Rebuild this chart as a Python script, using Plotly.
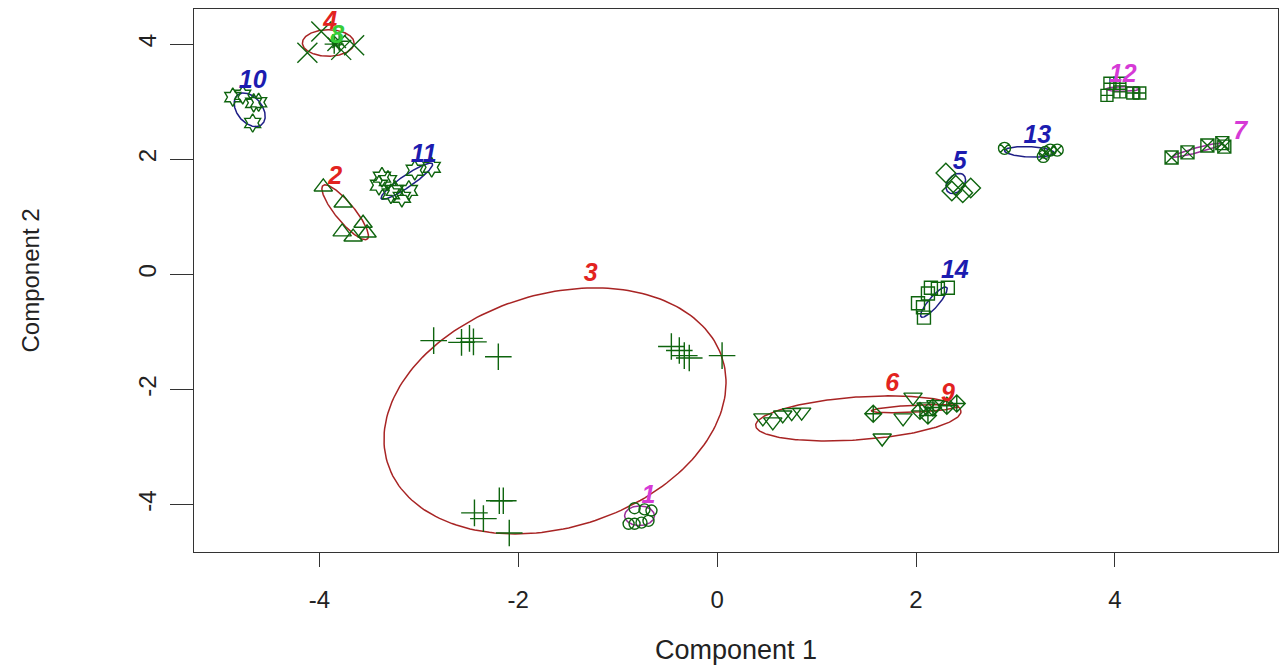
import numpy as np
import plotly.graph_objects as go

# ---------------- data ----------------
clusters = ["1", "2", "3", "4", "5", "6", "7", "8", "9", "10", "11", "12", "13", "14"]

c1_x = [-0.83, -0.73, -0.66, -0.89, -0.83, -0.76, -0.69]
c1_y = [-4.06, -4.08, -4.10, -4.33, -4.33, -4.31, -4.28]
c2_x = [-3.96, -3.76, -3.77, -3.56, -3.52, -3.66]
c2_y = [1.52, 1.24, 0.74, 0.89, 0.72, 0.65]
c3_x = [-2.85, -2.57, -2.49, -2.45, -2.20, -0.46, -0.38, -0.33, -0.28, 0.05,
        -2.44, -2.35, -2.19, -2.15, -2.09]
c3_y = [-1.15, -1.18, -1.11, -1.17, -1.43, -1.25, -1.32, -1.41, -1.45, -1.41,
        -4.14, -4.24, -3.93, -3.93, -4.49]
c4_x = [-4.12, -3.98, -3.65, -3.78]
c4_y = [3.85, 4.22, 3.98, 3.90]
c5_x = [2.30, 2.40, 2.36, 2.47, 2.55]
c5_y = [1.76, 1.55, 1.45, 1.42, 1.50]
c6_x = [0.46, 0.56, 0.66, 0.75, 0.85, 1.66, 1.97, 1.87, 2.10, 2.20]
c6_y = [-2.49, -2.56, -2.44, -2.40, -2.39, -2.84, -2.13, -2.49, -2.30, -2.26]
c7_x = [4.57, 4.73, 4.93, 5.08, 5.10]
c7_y = [2.03, 2.12, 2.24, 2.28, 2.22]
c8_x = [-3.85, -3.80]
c8_y = [4.00, 4.05]
c9_x = [1.57, 2.04, 2.17, 2.31, 2.41, 2.12]
c9_y = [-2.42, -2.37, -2.31, -2.28, -2.24, -2.45]
c10_x = [-4.87, -4.77, -4.66, -4.61, -4.67]
c10_y = [3.08, 3.12, 2.98, 2.99, 2.63]
c11_x = [-3.37, -3.40, -3.31, -3.24, -3.17, -3.10, -3.04, -2.87, -3.28]
c11_y = [1.69, 1.55, 1.63, 1.46, 1.34, 1.46, 1.81, 1.86, 1.40]
c12_x = [3.95, 4.05, 3.92, 4.05, 4.18, 4.25]
c12_y = [3.32, 3.32, 3.11, 3.17, 3.15, 3.15]
c13_x = [2.89, 3.28, 3.35, 3.42, 3.30]
c13_y = [2.19, 2.05, 2.16, 2.16, 2.12]
c14_x = [2.02, 2.08, 2.15, 2.32, 2.12, 2.07, 2.22]
c14_y = [-0.50, -0.75, -0.23, -0.23, -0.33, -0.57, -0.25]

points_x = [c1_x, c2_x, c3_x, c4_x, c5_x, c6_x, c7_x, c8_x, c9_x, c10_x, c11_x, c12_x, c13_x, c14_x]
points_y = [c1_y, c2_y, c3_y, c4_y, c5_y, c6_y, c7_y, c8_y, c9_y, c10_y, c11_y, c12_y, c13_y, c14_y]

# spanning ellipses: centre x, centre y, semi-axis a, semi-axis b, angle (deg)
ell_cx = [-0.78, -3.74, -1.63, -3.91, 2.40, 1.42, 4.83, -3.82, 1.99, -4.70, -3.12, 4.08, 3.14, 2.18]
ell_cy = [-4.19, 1.08, -2.37, 4.02, 1.58, -2.50, 2.16, 4.02, -2.33, 2.86, 1.62, 3.22, 2.13, -0.48]
ell_a = [0.15, 0.52, 2.22, 0.26, 0.18, 1.04, 0.28, 0.05, 0.44, 0.30, 0.40, 0.17, 0.25, 0.29]
ell_b = [0.17, 0.11, 1.61, 0.23, 0.09, 0.37, 0.04, 0.05, 0.06, 0.14, 0.08, 0.04, 0.09, 0.06]
ell_ang = [0, -66, 66.7, 0, 75, 7.6, 25, 0, 5, -75, 51, 0, -5, 65]

# cluster label positions
lab_x = [-0.69, -3.84, -1.27, -3.89, 2.44, 1.76, 5.26, -3.82, 2.32, -4.67, -2.95, 4.08, 3.22, 2.39]
lab_y = [-3.86, 1.68, 0.00, 4.38, 1.94, -1.92, 2.46, 4.12, -2.09, 3.34, 2.07, 3.45, 2.40, 0.04]
lab_group = ["m", "r", "r", "r", "b", "r", "m", "g", "r", "b", "b", "m", "b", "b"]

x_ticks = [-4, -2, 0, 2, 4]
y_ticks = [-4, -2, 0, 2, 4]

# ---------------- styles ----------------
symbols = ["circle-open", "triangle-up-open", "cross-thin-open", "x-thin-open", "diamond-open",
           "triangle-down-open", "square-x-open", "asterisk-open", "diamond-cross-open",
           "hexagram-open", "hexagram-open", "square-cross-open", "circle-x-open", "square-open"]
sizes = [11, 16, 19, 20, 15, 16, 13, 16, 13, 14, 15, 12, 12, 13]
text_col = {"r": "#E2231F", "b": "#1C1CB0", "m": "#D63AD6", "g": "#36CC36"}
line_col = {"r": "#A82424", "b": "#1E1E86", "m": "#9A2E9A", "g": "#24A024"}
pt_col = "#0E640E"

fig = go.Figure()

t = np.linspace(0, 2 * np.pi, 200)
for i in range(len(clusters)):
    th = np.deg2rad(ell_ang[i])
    ex = ell_cx[i] + ell_a[i] * np.cos(t) * np.cos(th) - ell_b[i] * np.sin(t) * np.sin(th)
    ey = ell_cy[i] + ell_a[i] * np.cos(t) * np.sin(th) + ell_b[i] * np.sin(t) * np.cos(th)
    fig.add_trace(go.Scatter(x=ex, y=ey, mode="lines",
                             line=dict(color=line_col[lab_group[i]], width=1.5),
                             hoverinfo="skip", showlegend=False))

for i in range(len(clusters)):
    fig.add_trace(go.Scatter(x=points_x[i], y=points_y[i], mode="markers",
                             marker=dict(symbol=symbols[i], size=sizes[i], color=pt_col,
                                         line=dict(width=1.4, color=pt_col)),
                             name="cluster " + clusters[i], showlegend=False))

for i in range(len(clusters)):
    fig.add_trace(go.Scatter(x=[lab_x[i]], y=[lab_y[i]], mode="text", text=[clusters[i]],
                             textposition="middle center",
                             textfont=dict(family="Liberation Sans, Arial", size=25,
                                           color=text_col[lab_group[i]],
                                           weight="bold", style="italic"),
                             hoverinfo="skip", showlegend=False))

axis_font = dict(family="Liberation Sans, Arial", size=24, color="#222222")

fig.update_layout(
    width=1287, height=669,
    margin=dict(l=194, r=9, t=9, b=117),
    paper_bgcolor="white", plot_bgcolor="white",
    showlegend=False,
    xaxis=dict(range=[-5.26, 5.64], tickvals=x_ticks, ticktext=[str(v) for v in x_ticks],
               ticks="outside", ticklen=14, tickwidth=1.3, tickcolor="#333333",
               showline=True, mirror=True, linecolor="#333333", linewidth=1.4,
               showgrid=False, zeroline=False, tickfont=axis_font, ticklabelstandoff=12),
    yaxis=dict(range=[-4.82, 4.61], tickvals=y_ticks, ticktext=[str(v) for v in y_ticks],
               ticks="outside", ticklen=23, tickwidth=1.3, tickcolor="#333333",
               showline=True, mirror=True, linecolor="#333333", linewidth=1.4,
               showgrid=False, zeroline=False, tickfont=axis_font, tickangle=-90,
               ticklabelstandoff=4),
    annotations=[
        dict(text="Component 1", xref="paper", yref="paper", x=0.5, y=0, yshift=-98,
             xanchor="center", yanchor="middle", showarrow=False,
             font=dict(family="Liberation Sans, Arial", size=27, color="#222222")),
        dict(text="Component 2", xref="paper", yref="paper", x=0, xshift=-164, y=0.5,
             xanchor="center", yanchor="middle", textangle=-90, showarrow=False,
             font=dict(family="Liberation Sans, Arial", size=24, color="#222222")),
    ],
)

fig.write_html("out.html", config={"displayModeBar": False},
               post_script="document.body.style.margin='0';document.body.style.overflow='hidden';")
